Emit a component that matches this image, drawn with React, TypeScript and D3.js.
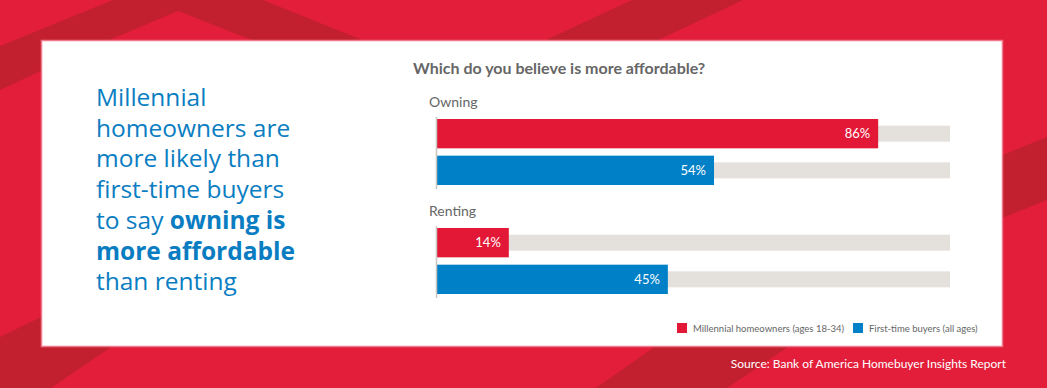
import React from "react";
import * as d3 from "d3";

const groups = ["Owning", "Renting"];
const seriesNames = ["Millennial homeowners (ages 18-34)", "First-time buyers (all ages)"];
const millennialValues = [86, 14];
const firstTimeValues = [54, 45];
const seriesColors = ["#E31837", "#0080C6"];
const headlineLines = [
  [{ t: "Millennial", b: false }],
  [{ t: "homeowners are", b: false }],
  [{ t: "more likely than", b: false }],
  [{ t: "first-time buyers", b: false }],
  [{ t: "to say ", b: false }, { t: "owning is", b: true }],
  [{ t: "more affordable", b: true }],
  [{ t: "than renting", b: false }],
];

const W = 1047;
const H = 388;
const RED = "#E31E3A";
const DARK = "#C3202F";

const darkShapes: [number, number][][] = [
  [[0, 46], [113, 0], [263, 0], [372, 44], [262, 44], [178, 11], [100, 44], [41, 71], [0, 90]],
  [[632, 0], [743, 0], [650, 44], [537, 44]],
  [[1000, 156], [1047, 137], [1047, 200], [1000, 219]],
  [[0, 337], [41, 317], [120, 343], [111, 347], [51, 388], [0, 388]],
  [[660, 343], [794, 343], [727, 388], [596, 388]],
];

export default function App() {
  const x = d3.scaleLinear().domain([0, 100]).range([437, 950]);
  const gy = d3.scaleBand<string>().domain(groups).range([119, 119 + 109 * 2]);
  const sy = d3.scaleBand<string>().domain(seriesNames).range([0, 66]).paddingInner(0.2);
  const values = [millennialValues, firstTimeValues];
  const line = d3.line();

  return (
    <div style={{ position: "fixed", left: 0, top: 0 }}>
      <svg width={W} height={H} style={{ display: "block" }}>
        <rect x={0} y={0} width={W} height={H} fill={RED} />
        {darkShapes.map((p, i) => (
          <path key={i} d={line(p) + "Z"} fill={DARK} />
        ))}
        <rect x={41.5} y={40.5} width={961} height={306} fill="#fff" stroke="#F07A8C" strokeWidth={1.5} />

        <g fontFamily="'Open Sans', sans-serif" fontSize={24.5} fill="#0A7DC2">
          {headlineLines.map((ln, i) => (
            <text key={i} x={96} y={106 + i * 30.7}>
              {ln.map((s, j) => (
                <tspan key={j} fontWeight={s.b ? 700 : 400}>{s.t}</tspan>
              ))}
            </text>
          ))}
        </g>

        <text x={413} y={74} fontFamily="Lato, sans-serif" fontWeight={700} fontSize={16} fill="#666">
          Which do you believe is more affordable?
        </text>

        {groups.map((g, gi) => {
          const y0 = gy(g)!;
          return (
            <g key={g}>
              <text x={429} y={y0 - 12} fontFamily="Lato, sans-serif" fontSize={14} fill="#666">{g}</text>
              {seriesNames.map((s, si) => {
                const by = y0 + sy(s)!;
                const bh = sy.bandwidth();
                const v = values[si][gi];
                const cy = by + bh / 2;
                return (
                  <g key={s}>
                    <rect x={x(0)} y={cy - 8} width={x(100) - x(0)} height={16} fill="#E4E0DB" />
                    <rect x={x(0)} y={by} width={x(v) - x(0)} height={bh} fill={seriesColors[si]} />
                    <text x={x(v) - 8} y={cy + 4.5} textAnchor="end" fontFamily="Lato, sans-serif" fontSize={13} fill="#fff">
                      {v + "%"}
                    </text>
                  </g>
                );
              })}
              <line x1={x(0) - 0.5} x2={x(0) - 0.5} y1={y0 - 2} y2={y0 + 70} stroke="#C8C4C0" strokeWidth={1.5} />
            </g>
          );
        })}

        {seriesNames.map((s, i) => {
          const lx = [677, 853][i];
          return (
            <g key={s}>
              <rect x={lx} y={323} width={10} height={10} fill={seriesColors[i]} />
              <text x={lx + 16} y={332} fontFamily="Lato, sans-serif" fontSize={9.5} fill="#666">{s}</text>
            </g>
          );
        })}

        <text x={1006} y={368} textAnchor="end" fontFamily="Lato, sans-serif" fontSize={12} fill="#fff">
          Source: Bank of America Homebuyer Insights Report
        </text>
      </svg>
    </div>
  );
}
